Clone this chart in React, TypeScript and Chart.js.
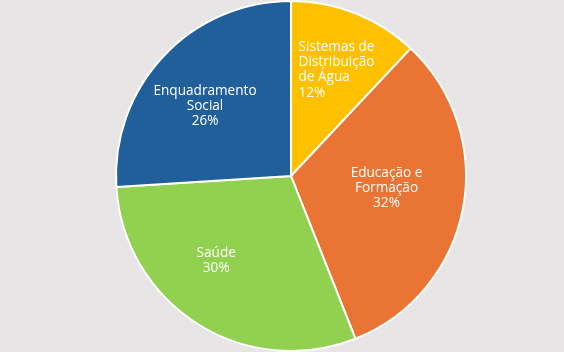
import React, { useEffect, useRef } from "react";
import { Chart, registerables } from "chart.js";

Chart.register(...registerables);

const categories = [
  ["Sistemas de", "Distribuição", "de Água"],
  ["Educação e", "Formação"],
  ["Saúde"],
  ["Enquadramento", "Social"],
];
const values = [12, 32, 30, 26];
const colors = ["#FFC000", "#EA7434", "#92D050", "#215F9A"];
const labelRadius = [0.66, 0.55, 0.646, 0.634];
const labelAngleShift = [1.6, -3.6, 9, -4];
const labelAlign = ["left", "center", "center", "center"];

const labelPlugin = {
  id: "sliceLabels",
  afterDatasetsDraw(chart: any) {
    const ctx = chart.ctx;
    const meta = chart.getDatasetMeta(0);
    const total = values.reduce((a, b) => a + b, 0);
    ctx.save();
    ctx.fillStyle = "#ffffff";
    ctx.font = '13.6px "Open Sans", sans-serif';
    ctx.textBaseline = "middle";
    const lh = 15.2;
    meta.data.forEach((arc: any, i: number) => {
      const { x, y, startAngle, endAngle, outerRadius } = arc.getProps(
        ["x", "y", "startAngle", "endAngle", "outerRadius"],
        true
      );
      const mid = (startAngle + endAngle) / 2 + (labelAngleShift[i] * Math.PI) / 180;
      const r = outerRadius * labelRadius[i];
      const cx = x + Math.cos(mid) * r;
      const cy = y + Math.sin(mid) * r;
      const lines = [...categories[i], Math.round((values[i] / total) * 100) + "%"];
      const top = cy - ((lines.length - 1) * lh) / 2;
      if (labelAlign[i] === "left") {
        const w = Math.max(...lines.map((l) => ctx.measureText(l).width));
        ctx.textAlign = "left";
        lines.forEach((l, k) => ctx.fillText(l, cx - w / 2, top + k * lh));
      } else {
        ctx.textAlign = "center";
        lines.forEach((l, k) => ctx.fillText(l, cx, top + k * lh));
      }
    });
    ctx.restore();
  },
};

export default function App() {
  const ref = useRef<HTMLCanvasElement>(null);
  useEffect(() => {
    document.body.style.margin = "0";
    document.body.style.background = "#E7E5E6";
    const chart = new Chart(ref.current!, {
      type: "pie",
      data: {
        labels: categories.map((c) => c.join(" ")),
        datasets: [
          {
            data: values,
            backgroundColor: colors,
            borderColor: "#ffffff",
            borderWidth: 2,
          },
        ],
      },
      options: {
        animation: false,
        responsive: false,
        layout: { padding: { left: 18, top: 0, right: 0, bottom: 0 } },
        plugins: { legend: { display: false }, tooltip: { enabled: false } },
      },
      plugins: [labelPlugin],
    });
    return () => chart.destroy();
  }, []);
  return (
    <div style={{ width: 564, height: 352, background: "#E7E5E6" }}>
      <canvas ref={ref} width={564} height={352} style={{ display: "block" }} />
    </div>
  );
}
